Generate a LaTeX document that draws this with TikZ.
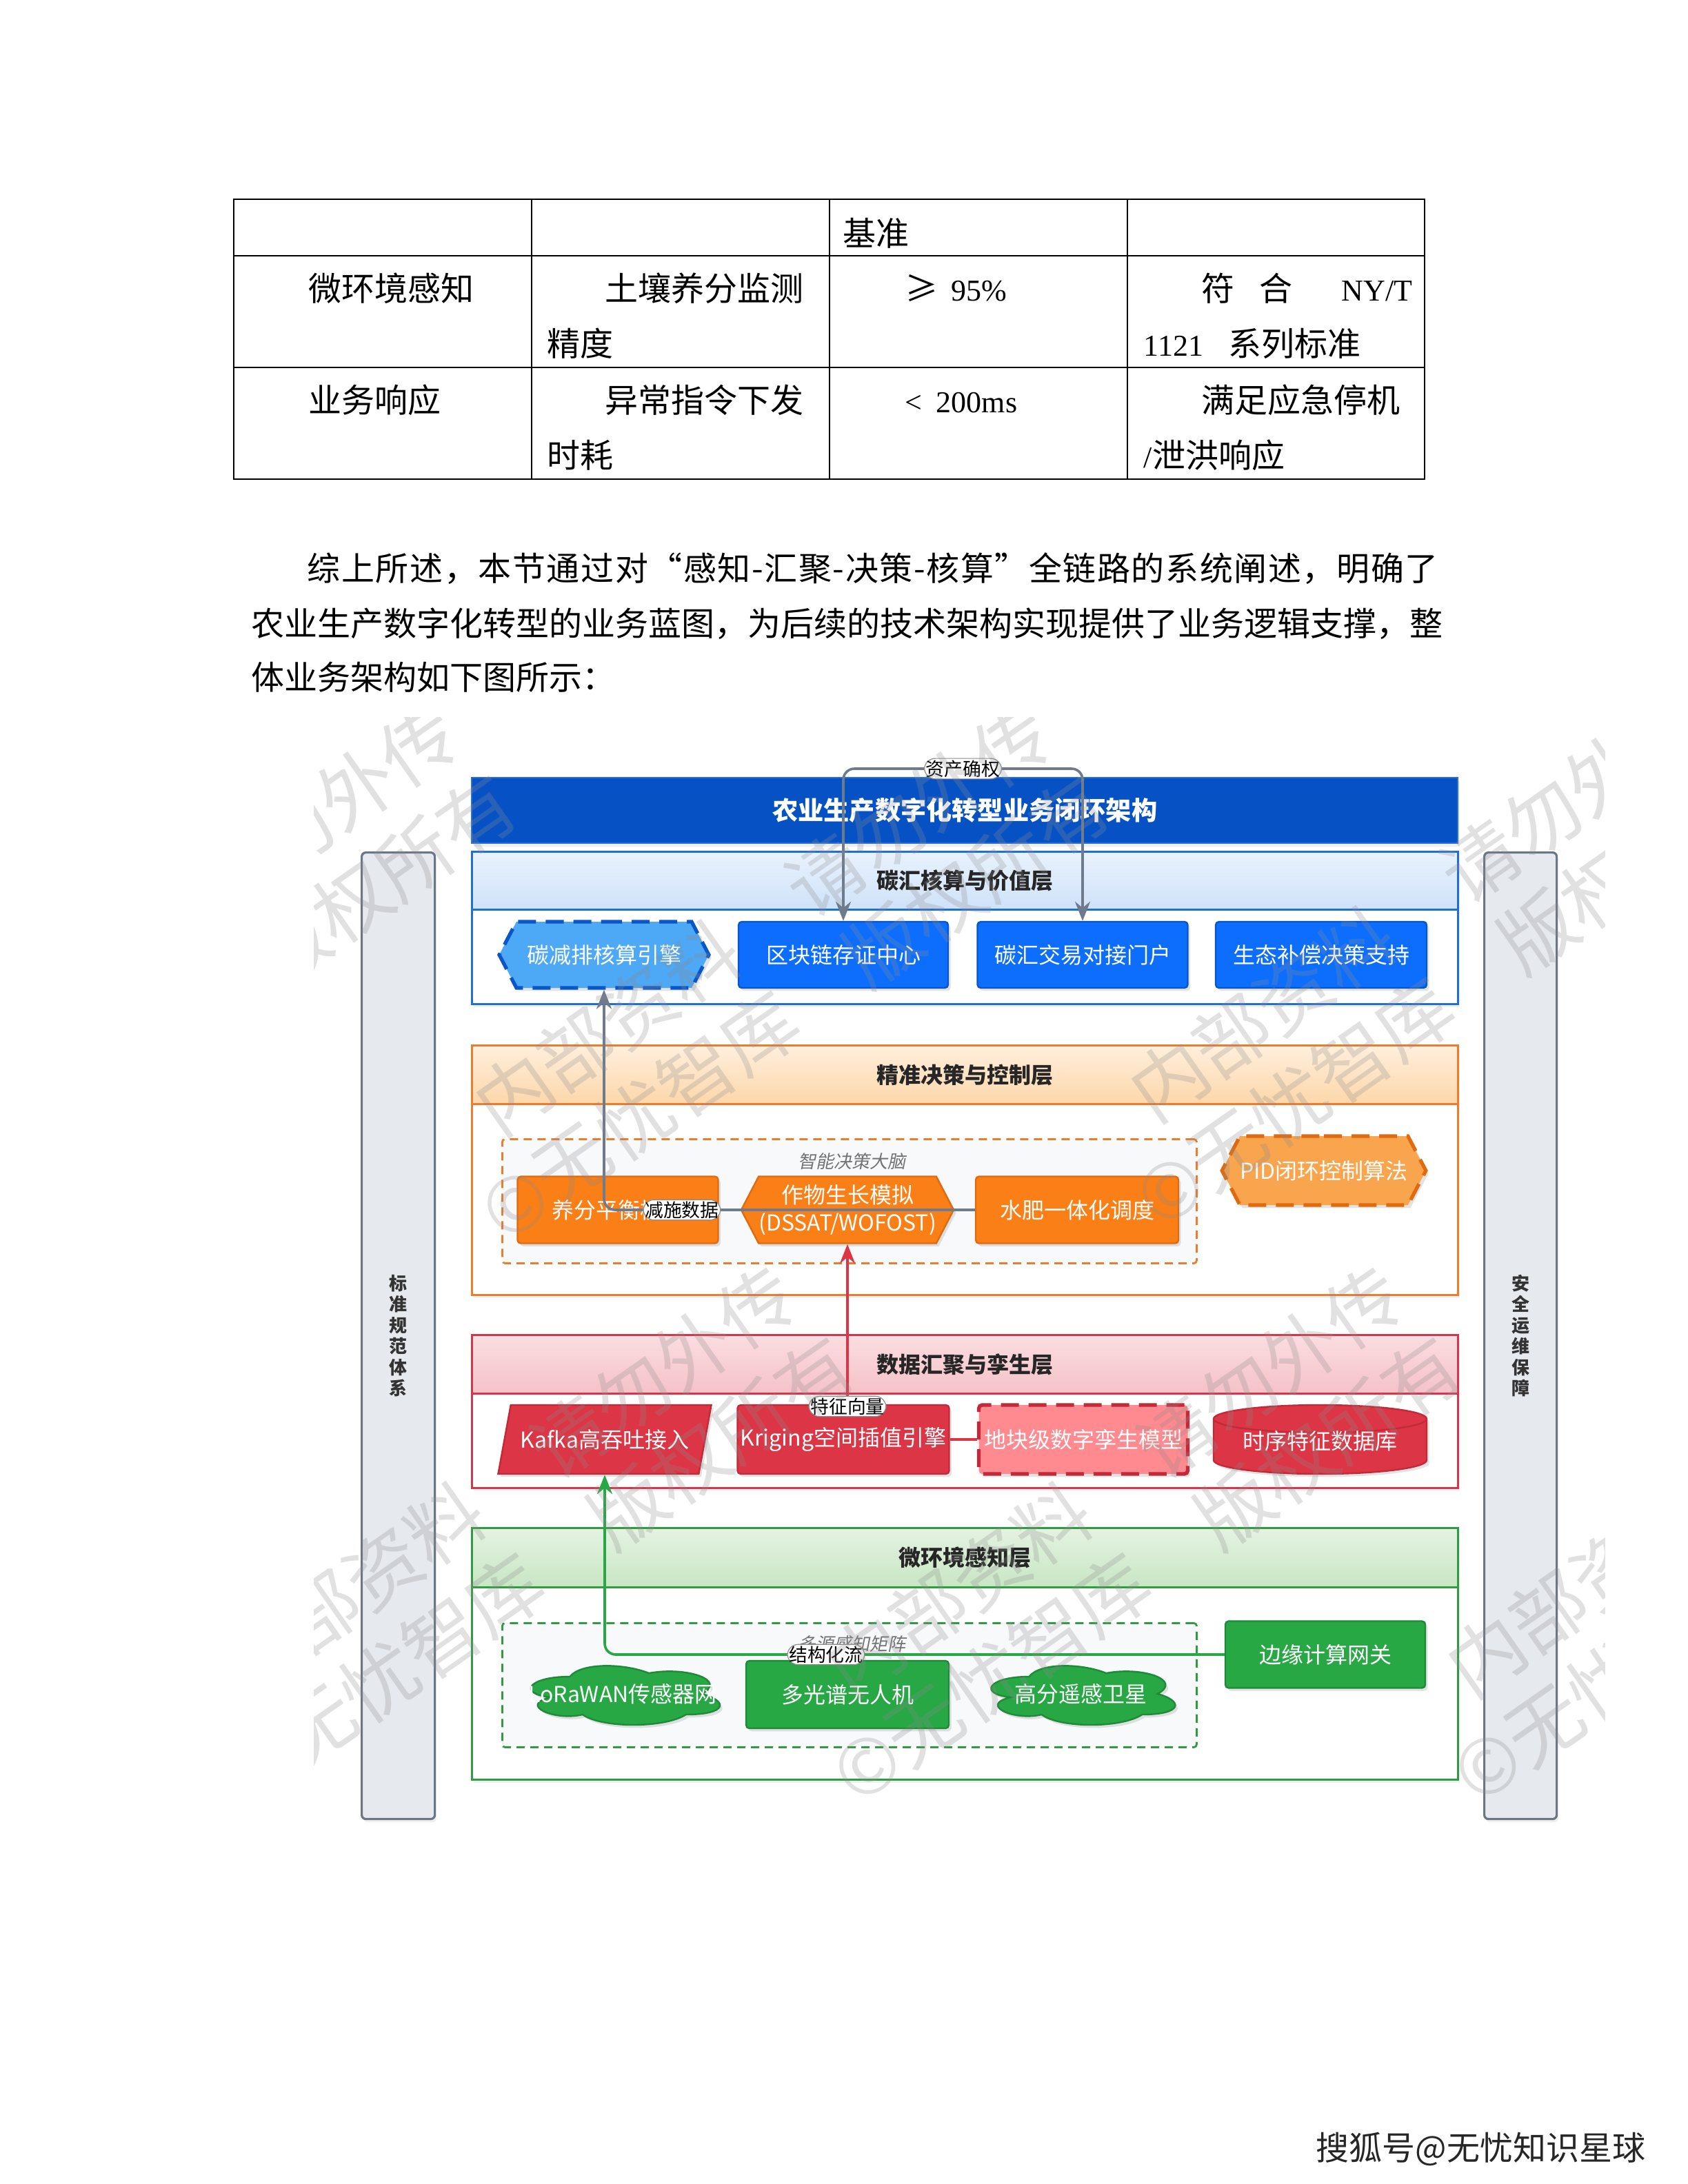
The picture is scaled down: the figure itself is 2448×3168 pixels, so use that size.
\documentclass[tikz,border=0pt]{standalone}
\usepackage{fontspec}
\setmainfont{Noto Sans CJK SC}[AutoFakeSlant=0.2]
\newfontfamily\lserif{Liberation Serif}
\usetikzlibrary{shapes.geometric,shapes.symbols,arrows.meta,shadows}

\definecolor{tbarblue}{HTML}{0652C5}
\definecolor{tbarborder}{HTML}{2A6FD6}
\definecolor{lblueB}{HTML}{1F6FD8}
\definecolor{lheadAa}{HTML}{E9F2FD}
\definecolor{lheadAb}{HTML}{CFE2F9}
\definecolor{nblue}{HTML}{0D6EFD}
\definecolor{nblueB}{HTML}{0A56C8}
\definecolor{nlblue}{HTML}{4DA8F5}
\definecolor{orangeB}{HTML}{F07B2A}
\definecolor{lheadBa}{HTML}{FFEFDD}
\definecolor{lheadBb}{HTML}{FCD7AA}
\definecolor{norange}{HTML}{FA7F17}
\definecolor{norangeB}{HTML}{E26A0E}
\definecolor{nlorange}{HTML}{F9A54E}
\definecolor{redB}{HTML}{D9344A}
\definecolor{lheadCa}{HTML}{FBDDE0}
\definecolor{lheadCb}{HTML}{F4C2C8}
\definecolor{nred}{HTML}{DC3545}
\definecolor{nredB}{HTML}{C22A3A}
\definecolor{nlred}{HTML}{FF8A8F}
\definecolor{greenB}{HTML}{2E9D40}
\definecolor{lheadDa}{HTML}{E4F3E1}
\definecolor{lheadDb}{HTML}{C8E6C4}
\definecolor{ngreen}{HTML}{28A745}
\definecolor{ngreenB}{HTML}{1F8A38}
\definecolor{sidefill}{HTML}{E6E9EE}
\definecolor{sideborder}{HTML}{6B7785}
\definecolor{edgegray}{HTML}{6D7B8C}
\definecolor{groupfill}{HTML}{F8F9FB}

\newcommand{\lat}[1]{{\lserif\fontsize{11}{13}\selectfont #1}}
% draw.io style cloud outline in a box: left, top (px), width, height (pt), style
\newcommand{\drawcloud}[5]{%
  \begin{scope}[shift={(#1,#2)}, x=#3, y=-#4]
    \path[#5] (0.25,0.25) .. controls (0.05,0.25) and (0,0.5) .. (0.16,0.55)
      .. controls (0,0.66) and (0.18,0.9) .. (0.31,0.8)
      .. controls (0.4,1) and (0.7,1) .. (0.8,0.8)
      .. controls (1,0.8) and (1,0.6) .. (0.875,0.5)
      .. controls (1,0.3) and (0.8,0.1) .. (0.625,0.2)
      .. controls (0.5,0.05) and (0.3,0.05) .. (0.25,0.25) -- cycle;
  \end{scope}}

\tikzset{
  tabline/.style={line width=0.7pt, black},
  ttext/.style={anchor=west, inner sep=0pt, text height=10.5pt, text depth=1.5pt, font=\fontsize{12}{14}\selectfont},
  shad/.style={drop shadow={shadow xshift=0.9pt, shadow yshift=-1.1pt, opacity=0.22}},
  lshad/.style={drop shadow={shadow xshift=0.6pt, shadow yshift=-1.2pt, opacity=0.12}},
  layerbox/.style={draw, fill=white, line width=0.8pt, minimum width=357.5pt, anchor=north west, inner sep=0pt, lshad},
  layerhead/.style={draw, line width=0.8pt, minimum width=357.5pt, anchor=north west, inner sep=0pt, font=\bfseries\fontsize{8}{9.6}\selectfont, text=black!85},
  nbox/.style={draw, line width=0.6pt, rounded corners=1.2pt, inner sep=0pt, align=center, text=white, font=\fontsize{8}{10}\selectfont, shad},
  hexa/.style={nbox, signal, signal to=west and east, signal pointer angle=125, rounded corners=0pt},
  cloudfill/.style={fill=ngreen, draw=ngreenB, line width=0.6pt, shad},
  ntext/.style={inner sep=0pt, text=white, font=\fontsize{8}{10}\selectfont},
  dashedge/.style={dash pattern=on 6.5pt off 3.5pt, line width=1.3pt},
  grp/.style={draw, dash pattern=on 3pt off 2pt, line width=0.7pt, fill=groupfill, anchor=north west, inner sep=0pt, minimum width=251.75pt, minimum height=45pt, rounded corners=1pt},
  grplabel/.style={inner sep=0pt, font=\itshape\fontsize{6.5}{8}\selectfont, text=black!55},
  elabel/.style={fill=white, draw=black!45, line width=0.3pt, inner sep=0.6pt, font=\fontsize{6.7}{8}\selectfont, text=black},
  conn/.style={line width=0.9pt, rounded corners=4pt},
  sidebar/.style={draw=sideborder, fill=sidefill, line width=0.8pt, rounded corners=1.5pt, anchor=north west, minimum width=26.5pt, minimum height=350.5pt, inner sep=0pt, align=center, font=\bfseries\fontsize{6.5}{7.6}\selectfont, text=black!80, lshad},
  wm/.style={anchor=center, rotate=35, inner sep=0pt, font=\fontsize{27.5}{30}\selectfont, text=black!45, opacity=0.26},
}

\begin{document}
\begin{tikzpicture}[x=0.25pt,y=-0.25pt,>={Stealth[length=7pt,width=5.5pt]}]
\useasboundingbox (0,0) rectangle (2448,3168);
\fill[white] (0,0) rectangle (2448,3168);

% ---------------- table ----------------
\draw[tabline] (339,289) rectangle (2066,695);
\foreach \x in {771,1203,1635} \draw[tabline] (\x,289) -- (\x,695);
\foreach \y in {371,533} \draw[tabline] (339,\y) -- (2066,\y);

\node[ttext] (t1) at (1222,338) {基准};
\node[ttext] (t2) at (447,418) {微环境感知};
\node[ttext] (t3) at (877,418) {土壤养分监测};
\node[ttext] (t4) at (793,498) {精度};
\node[ttext] (t5) at (1312,418) {≥};
\node[ttext] (t5b) at (1379,418) {\lat{95\%}};
\node[ttext] (t6) at (1742,418) {符};
\node[ttext] (t6b) at (1826,418) {合};
\node[ttext] (t6c) at (1945,418) {\lat{NY/T}};
\node[ttext] (t7) at (1658,498) {\lat{1121}};
\node[ttext] (t7b) at (1781,498) {系列标准};
\node[ttext] (t8) at (447,580) {业务响应};
\node[ttext] (t9) at (877,580) {异常指令下发};
\node[ttext] (t10) at (793,660) {时耗};
\node[ttext] (t11) at (1312,580) {\lat{<}};
\node[ttext] (t11b) at (1357,580) {\lat{200ms}};
\node[ttext] (t12) at (1742,580) {满足应急停机};
\node[ttext] (t13) at (1658,660) {\lat{/}泄洪响应};

% ---------------- paragraph ----------------
\node[ttext] (p1) at (445,824) {\addfontfeatures{LetterSpace=3.3}综上所述，本节通过对“感知-汇聚-决策-核算”全链路的系统阐述，明确了};
\node[ttext] (p2) at (364,904) {农业生产数字化转型的业务蓝图，为后续的技术架构实现提供了业务逻辑支撑，整};
\node[ttext] (p3) at (364,982) {体业务架构如下图所示：};

% ---------------- side bars ----------------
\node[sidebar] (sideL) at (523,1235) {标\\准\\规\\范\\体\\系};
\node[sidebar, minimum width=26.25pt] (sideR) at (2151,1235) {安\\全\\运\\维\\保\\障};

% ---------------- title ----------------
\node[draw=tbarborder, fill=tbarblue, line width=0.6pt, minimum width=357.5pt, minimum height=23.75pt, anchor=north west, inner sep=0pt, text=white, font=\bfseries\fontsize{9.3}{11}\selectfont, lshad] (title) at (683,1127) {农业生产数字化转型业务闭环架构};

% ---------------- layers ----------------
\node[layerbox, draw=lblueB, minimum height=55.25pt] (L1) at (683,1234) {};
\node[layerhead, draw=lblueB, top color=lheadAa, bottom color=lheadAb, minimum height=21pt] (L1h) at (683,1234) {碳汇核算与价值层};

\node[layerbox, draw=orangeB, minimum height=90.5pt] (L2) at (683,1515) {};
\node[layerhead, draw=orangeB, top color=lheadBa, bottom color=lheadBb, minimum height=21.25pt] (L2h) at (683,1515) {精准决策与控制层};

\node[layerbox, draw=redB, minimum height=55.5pt] (L3) at (683,1935) {};
\node[layerhead, draw=redB, top color=lheadCa, bottom color=lheadCb, minimum height=21.25pt] (L3h) at (683,1935) {数据汇聚与孪生层};

\node[layerbox, draw=greenB, minimum height=91.25pt] (L4) at (683,2215) {};
\node[layerhead, draw=greenB, top color=lheadDa, bottom color=lheadDb, minimum height=21.5pt] (L4h) at (683,2215) {微环境感知层};

% ---------------- groups ----------------
\node[grp, draw=orangeB] (g2) at (727,1651) {};
\node[grplabel] (g2l) at (1235,1685) {智能决策大脑};
\node[grp, draw=greenB] (g4) at (727,2353) {};
\node[grplabel] (g4l) at (1235,2385) {多源感知矩阵};

% ---------------- layer 1 nodes ----------------
\node[hexa, fill=nlblue, draw=nblueB, dashedge, minimum width=76pt, minimum height=24pt] (n11) at (876,1385) {碳减排核算引擎};
\node[nbox, fill=nblue, draw=nblueB, minimum width=76pt, minimum height=24pt] (n12) at (1223,1385) {区块链存证中心};
\node[nbox, fill=nblue, draw=nblueB, minimum width=76.25pt, minimum height=24pt] (n13) at (1570,1385) {碳汇交易对接门户};
\node[nbox, fill=nblue, draw=nblueB, minimum width=76.5pt, minimum height=24pt] (n14) at (1916,1385) {生态补偿决策支持};

% ---------------- layer 2 nodes ----------------
\node[nbox, fill=norange, draw=norangeB, minimum width=72.75pt, minimum height=24.25pt] (n21) at (896,1755) {养分平衡模型};
\node[hexa, fill=norange, draw=norangeB, minimum width=72.5pt, minimum height=24.25pt] (n22) at (1229,1755) {作物生长模拟\\(DSSAT/WOFOST)};
\node[nbox, fill=norange, draw=norangeB, minimum width=73.5pt, minimum height=24.25pt] (n23) at (1562,1755) {水肥一体化调度};
\node[hexa, fill=nlorange, draw=norangeB, dashedge, minimum width=73.25pt, minimum height=25pt] (n24) at (1920,1698) {PID闭环控制算法};

% ---------------- layer 3 nodes ----------------
\node[nbox, trapezium, trapezium left angle=61, trapezium right angle=119, trapezium stretches=true, rounded corners=0pt, fill=nred, draw=nredB, minimum width=77.5pt, minimum height=25pt] (n31) at (877,2088) {Kafka高吞吐接入};
\node[nbox, fill=nred, draw=nredB, minimum width=76.75pt, minimum height=25pt] (n32) at (1223,2088) {Kriging空间插值引擎};
\node[nbox, fill=nlred, draw=nredB, dashedge, minimum width=75.75pt, minimum height=25pt] (n33) at (1571,2088) {地块级数字孪生模型};
\path[fill=nred, draw=nredB, line width=0.6pt, shad] (1760,2058) -- (1760,2118) arc[start angle=180, end angle=360, x radius=38.625pt, y radius=5pt] -- (2069,2058) arc[start angle=0, end angle=180, x radius=38.625pt, y radius=5pt] -- cycle;
\draw[nredB, line width=0.6pt] (1760,2058) arc[start angle=180, end angle=360, x radius=38.625pt, y radius=5pt];
\node[ntext, minimum width=77pt, minimum height=25pt] (n34) at (1914,2090) {时序特征数据库};

% ---------------- layer 4 nodes ----------------
\drawcloud{750}{2407}{76.5pt}{25pt}{cloudfill}
\node[ntext] (n41) at (903,2457) {LoRaWAN传感器网};
\node[nbox, fill=ngreen, draw=ngreenB, minimum width=73.5pt, minimum height=24.5pt] (n42) at (1229,2458) {多光谱无人机};
\drawcloud{1418}{2407}{74.5pt}{25pt}{cloudfill}
\node[ntext] (n43) at (1567,2457) {高分遥感卫星};
\node[nbox, fill=ngreen, draw=ngreenB, minimum width=72.5pt, minimum height=24.25pt] (n44) at (1922,2400) {边缘计算网关};

% ---------------- connectors ----------------
\coordinate (topc) at (1223,1115);
\draw[conn, edgegray, <->] (n12.north) -- (n12.north |- topc) -- node[elabel] (lb1) {资产确权} (n13.north |- topc) -- (n13.north);
\draw[conn, edgegray, ->] (n23.west) -- node[elabel, pos=0.79] (lb2) {减施数据} (n11.south |- n23.west) -- (n11.south);
\draw[conn, nred, ->] (n22.south |- n32.north) -- node[elabel, at start, yshift=-0.8pt] (lb3) {特征向量} (n22.south);
\draw[line width=0.9pt, nred] (n32.east) -- (n33.west);
\draw[conn, ngreen, ->] (n44.west) -- node[elabel, pos=0.643] (lb4) {结构化流} (n31.center |- n44.west) -- (n31.center |- n31.south);

% ---------------- footer ----------------
\node[ttext, text=black!85] (sohu) at (1908,3115) {搜狐号@无忧知识星球};

% ---------------- watermark ----------------
\begin{scope}
\clip (455,1040) rectangle (2327,2656);
\node[wm] (w1) at (246,1333) {内部资料　请勿外传};
\node[wm] (w2) at (293,1461) {©无忧智库　版权所有};
\node[wm] (w3) at (1106,1333) {内部资料　请勿外传};
\node[wm] (w4) at (1153,1461) {©无忧智库　版权所有};
\node[wm] (w5) at (2056,1313) {内部资料　请勿外传};
\node[wm] (w6) at (2103,1441) {©无忧智库　版权所有};
\node[wm] (w7) at (736,2148) {内部资料　请勿外传};
\node[wm] (w8) at (783,2276) {©无忧智库　版权所有};
\node[wm] (w9) at (1616,2148) {内部资料　请勿外传};
\node[wm] (w10) at (1663,2276) {©无忧智库　版权所有};
\node[wm] (w11) at (2516,2148) {内部资料　请勿外传};
\node[wm] (w12) at (2563,2276) {©无忧智库　版权所有};
\end{scope}
\end{tikzpicture}
\end{document}
